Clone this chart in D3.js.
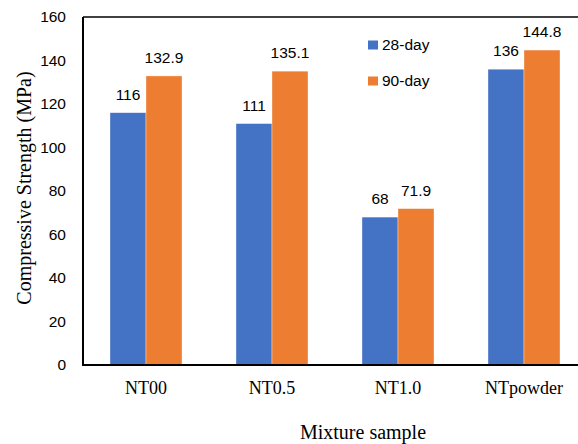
<!DOCTYPE html>
<html>
<head>
<meta charset="utf-8">
<script src="https://cdn.jsdelivr.net/npm/d3@7"></script>
<style>
  html, body { margin: 0; padding: 0; background: #fff; }
  svg { display: block; }
</style>
</head>
<body>
<svg id="chart" width="578" height="444"></svg>
<script>
// Compressive strength by mixture and curing age
const categories = ["NT00", "NT0.5", "NT1.0", "NTpowder"];
const seriesNames = ["28-day", "90-day"];
const strength28 = [116, 111, 68, 136];
const strength90 = [132.9, 135.1, 71.9, 144.8];
const yTicks = [0, 20, 40, 60, 80, 100, 120, 140, 160];
const colors = ["#4472C4", "#ED7D31"];

const svg = d3.select("#chart");
const plot = { left: 83, top: 17, right: 587, bottom: 365 };

const x0 = d3.scaleBand().domain(categories).range([plot.left, plot.right]).padding(0);
const x1 = d3.scaleBand().domain(seriesNames).range([0, x0.bandwidth()])
  .paddingInner(0).paddingOuter(0.75);
const y = d3.scaleLinear().domain([0, 160]).range([plot.bottom, plot.top]);

const sansFont = "'Liberation Sans', Arial, sans-serif";
const serifFont = "'Liberation Serif', 'Times New Roman', serif";

// bars
const rows = categories.map((c, i) => ({ cat: c, vals: [strength28[i], strength90[i]] }));
const groups = svg.append("g").selectAll("g").data(rows).join("g")
  .attr("transform", d => `translate(${x0(d.cat)},0)`);

groups.selectAll("rect").data(d => d.vals.map((v, k) => ({ v, k })))
  .join("rect")
  .attr("x", d => x1(seriesNames[d.k]))
  .attr("y", d => y(d.v))
  .attr("width", x1.bandwidth())
  .attr("height", d => y(0) - y(d.v))
  .attr("fill", d => colors[d.k])
  .attr("stroke", "#ffffff")
  .attr("stroke-opacity", 0.6)
  .attr("stroke-width", 0.6);

// value labels
groups.selectAll("text").data(d => d.vals.map((v, k) => ({ v, k })))
  .join("text")
  .attr("x", d => x1(seriesNames[d.k]) + x1.bandwidth() / 2)
  .attr("y", d => y(d.v) - 13)
  .attr("text-anchor", "middle")
  .attr("font-family", sansFont)
  .attr("font-size", 15.5)
  .attr("fill", "#000")
  .text(d => String(d.v));

// frame: top border plus left and bottom axes
svg.append("line")
  .attr("x1", plot.left).attr("x2", plot.right)
  .attr("y1", plot.top).attr("y2", plot.top)
  .attr("stroke", "#000").attr("stroke-width", 1.3);
svg.append("line")
  .attr("x1", plot.left).attr("x2", plot.left)
  .attr("y1", plot.top).attr("y2", plot.bottom)
  .attr("stroke", "#000").attr("stroke-width", 2);
svg.append("line")
  .attr("x1", plot.left - 1).attr("x2", plot.right)
  .attr("y1", plot.bottom).attr("y2", plot.bottom)
  .attr("stroke", "#000").attr("stroke-width", 2);

// y axis labels
const yAxis = d3.axisLeft(y).tickValues(yTicks).tickSize(0).tickPadding(17);
const gy = svg.append("g").attr("transform", `translate(${plot.left},0)`).call(yAxis);
gy.select(".domain").remove();
gy.selectAll("text")
  .attr("font-family", sansFont)
  .attr("font-size", 15.5)
  .attr("fill", "#000");

// x axis labels
const xAxis = d3.axisBottom(x0).tickSize(0).tickPadding(16);
const gx = svg.append("g").attr("transform", `translate(0,${plot.bottom})`).call(xAxis);
gx.select(".domain").remove();
gx.selectAll("text")
  .attr("font-family", serifFont)
  .attr("font-size", 18)
  .attr("fill", "#000");

// axis titles
svg.append("text")
  .attr("transform", "translate(31,188) rotate(-90)")
  .attr("text-anchor", "middle")
  .attr("font-family", serifFont)
  .attr("font-size", 20)
  .attr("fill", "#000")
  .text("Compressive Strength (MPa)");

svg.append("text")
  .attr("x", 363).attr("y", 439)
  .attr("text-anchor", "middle")
  .attr("font-family", serifFont)
  .attr("font-size", 20)
  .attr("fill", "#000")
  .text("Mixture sample");

// legend
const legend = svg.append("g").attr("transform", "translate(368,40)");
const li = legend.selectAll("g").data(seriesNames).join("g")
  .attr("transform", (d, i) => `translate(0,${i * 36})`);
li.append("rect").attr("width", 10).attr("height", 9).attr("y", 0.5)
  .attr("fill", (d, i) => colors[i]);
li.append("text")
  .attr("x", 14).attr("y", 10)
  .attr("font-family", sansFont)
  .attr("font-size", 15.5)
  .attr("fill", "#000")
  .text(d => d);
</script>
</body>
</html>
